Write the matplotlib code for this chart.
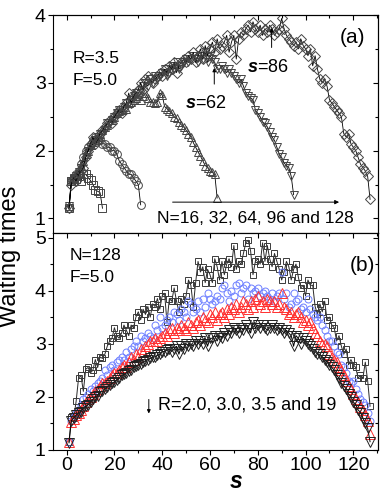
import matplotlib
matplotlib.use('Agg')
import matplotlib.pyplot as plt
from matplotlib.ticker import MultipleLocator

plt.rcParams['font.family'] = ['Liberation Sans', 'DejaVu Sans']
plt.rcParams['mathtext.fontset'] = 'custom'
plt.rcParams['mathtext.it'] = 'Liberation Sans:italic:bold'
plt.rcParams['mathtext.rm'] = 'Liberation Sans'

# ---- data: panel (a), R=3.5, F=5.0, different chain lengths N ----
n16 = [1.15, 1.55, 1.60, 1.58, 1.62, 1.55, 1.66, 1.65, 1.60, 1.56, 1.50, 1.42, 1.40, 1.38, 1.15]

n32 = [1.15, 1.55, 1.60, 1.65, 1.70, 1.80, 1.90, 2.00, 2.05, 2.10,
       2.15, 2.20, 2.15, 2.15, 2.10, 2.10, 2.05, 2.05, 2.00, 2.00,
       1.95, 1.85, 1.80, 1.75, 1.70, 1.65, 1.65, 1.60, 1.55, 1.50,
       1.20]

n64 = [1.18, 1.58, 1.60, 1.65, 1.72, 1.78, 1.85, 1.95, 2.00, 2.08,
       2.12, 2.18, 2.20, 2.25, 2.30, 2.35, 2.38, 2.45, 2.45, 2.50,
       2.55, 2.58, 2.60, 2.65, 2.62, 2.70, 2.72, 2.75, 2.78, 2.80,
       2.75, 2.80, 2.85, 2.78, 2.72, 2.72, 2.70, 2.72, 2.85, 2.82,
       2.65, 2.62, 2.58, 2.55, 2.50, 2.48, 2.42, 2.38, 2.35, 2.30,
       2.25, 2.20, 2.12, 2.05, 1.98, 1.92, 1.85, 1.78, 1.75, 1.70,
       1.68, 1.65, 1.30]

n96 = [1.18, 1.55, 1.58, 1.62, 1.68, 1.75, 1.80, 1.90, 2.00, 2.05,
       2.10, 2.15, 2.20, 2.25, 2.25, 2.30, 2.40, 2.40, 2.45, 2.50,
       2.55, 2.60, 2.60, 2.65, 2.70, 2.70, 2.75, 2.80, 2.85, 2.85,
       2.90, 2.95, 3.00, 2.95, 3.05, 3.00, 3.10, 3.05, 3.10, 3.15,
       3.20, 3.10, 3.15, 3.25, 3.20, 3.30, 3.20, 3.25, 3.30, 3.35,
       3.30, 3.35, 3.40, 3.35, 3.30, 3.40, 3.35, 3.45, 3.30, 3.40,
       3.35, 3.30, 3.20, 3.20, 3.25, 3.20, 3.15, 3.20, 3.15, 3.10,
       3.05, 3.00, 3.05, 2.95, 2.85, 2.80, 2.78, 2.75, 2.60, 2.55,
       2.50, 2.42, 2.40, 2.35, 2.28, 2.20, 2.15, 2.05, 1.95, 1.90,
       1.82, 1.78, 1.75, 1.62, 1.35]

n128 = [1.15, 1.50, 1.60, 1.55, 1.65, 1.70, 1.75, 1.90, 2.00, 2.10,
        2.20, 2.10, 2.15, 2.25, 2.30, 2.35, 2.40, 2.45, 2.40, 2.50,
        2.55, 2.60, 2.55, 2.65, 2.70, 2.85, 2.70, 2.80, 2.85, 2.90,
        3.00, 2.90, 3.05, 3.10, 3.05, 3.00, 3.05, 3.10, 3.15, 3.10,
        3.20, 3.15, 3.25, 3.20, 3.30, 3.15, 3.25, 3.30, 3.35, 3.30,
        3.40, 3.35, 3.45, 3.30, 3.40, 3.50, 3.35, 3.55, 3.40, 3.50,
        3.60, 3.45, 3.65, 3.50, 3.55, 3.60, 3.70, 3.45, 3.60, 3.70,
        3.35, 3.65, 3.75, 3.70, 3.80, 3.85, 3.75, 3.90, 3.80, 3.75,
        3.85, 3.70, 3.80, 3.75, 3.85, 3.80, 3.70, 3.75, 3.80, 3.95,
        3.80, 3.70, 3.65, 3.60, 3.55, 3.60, 3.50, 3.65, 3.55, 3.50,
        3.40, 3.50, 3.25, 3.40, 3.20, 3.05, 3.00, 3.05, 2.95, 2.75,
        2.70, 2.65, 2.60, 2.55, 2.50, 2.25, 2.20, 2.25, 2.10, 2.05,
        2.00, 1.90, 1.80, 1.75, 1.70, 1.62, 1.28]

# ---- data: panel (b), N=128, F=5.0, different R ----
r20 = [1.15, 1.62, 1.60, 1.92, 2.35, 2.40, 2.10, 2.52, 2.55, 2.45,
       2.50, 2.70, 2.55, 2.75, 2.72, 2.80, 2.95, 3.05, 3.10, 3.30,
       3.15, 3.10, 3.20, 3.35, 3.25, 3.15, 3.35, 3.30, 3.50, 3.60,
       3.45, 3.65, 3.55, 3.70, 3.50, 3.75, 3.70, 3.85, 3.65, 3.90,
       3.95, 3.40, 3.85, 3.80, 4.05, 3.80, 3.60, 3.85, 3.75, 3.90,
       4.20, 4.10, 3.70, 4.15, 4.55, 4.35, 4.45, 4.15, 4.40, 4.30,
       4.15, 4.60, 4.45, 4.20, 4.55, 4.30, 4.50, 4.60, 4.45, 4.85,
       4.40, 4.55, 4.50, 4.70, 4.90, 4.95, 4.75, 4.30, 4.55, 4.60,
       4.50, 4.90, 4.55, 4.85, 4.60, 4.45, 4.70, 4.55, 4.40, 4.20,
       4.35, 4.55, 4.45, 4.20, 4.40, 4.50, 4.25, 4.05, 4.10, 3.90,
       4.20, 4.10, 4.10, 3.70, 3.55, 3.75, 3.60, 3.80, 3.45, 3.50,
       3.35, 3.30, 3.05, 3.15, 2.95, 2.80, 2.90, 2.60, 2.70, 2.60,
       2.55, 2.35, 2.40, 2.35, 2.65, 2.30, 1.82]

r30 = [1.15, 1.55, 1.62, 1.70, 1.75, 1.85, 1.95, 2.00, 2.05, 2.15,
       2.10, 2.20, 2.25, 2.30, 2.35, 2.50, 2.40, 2.55, 2.60, 2.50,
       2.65, 2.70, 2.75, 2.70, 2.85, 2.75, 2.90, 2.95, 3.05, 2.95,
       3.15, 3.05, 3.10, 3.20, 3.15, 3.10, 3.35, 3.25, 3.50, 3.30,
       3.35, 3.45, 3.50, 3.40, 3.60, 3.55, 3.45, 3.65, 3.60, 3.50,
       3.80, 3.75, 3.60, 3.65, 3.80, 3.60, 3.85, 3.70, 3.95, 3.85,
       3.75, 3.80, 3.90, 3.85, 4.05, 4.10, 3.95, 3.80, 4.00, 3.90,
       4.10, 4.15, 3.95, 4.05, 4.10, 3.85, 4.05, 3.95, 4.00, 4.05,
       3.90, 3.95, 4.00, 3.90, 3.85, 3.95, 3.80, 3.90, 3.95, 4.35,
       3.85, 3.95, 3.70, 3.75, 3.95, 3.80, 3.85, 3.65, 3.70, 3.60,
       3.85, 3.65, 3.55, 3.50, 3.45, 3.50, 3.35, 3.25, 3.15, 3.05,
       3.05, 2.95, 2.85, 2.80, 2.60, 2.55, 2.45, 2.30, 2.25, 2.30,
       2.15, 2.05, 1.95, 1.90, 1.85, 1.70, 1.55]

r35 = [1.15, 1.52, 1.58, 1.65, 1.70, 1.75, 1.82, 1.90, 1.95, 2.00,
       2.05, 2.10, 2.15, 2.20, 2.25, 2.25, 2.30, 2.35, 2.40, 2.45,
       2.45, 2.50, 2.55, 2.60, 2.55, 2.65, 2.75, 2.70, 2.80, 2.75,
       2.90, 2.85, 2.95, 3.00, 3.05, 3.05, 3.10, 3.05, 3.10, 3.15,
       3.20, 3.15, 3.25, 3.30, 3.20, 3.30, 3.25, 3.35, 3.30, 3.25,
       3.40, 3.35, 3.30, 3.40, 3.45, 3.35, 3.50, 3.45, 3.40, 3.55,
       3.50, 3.60, 3.45, 3.55, 3.60, 3.50, 3.65, 3.55, 3.70, 3.65,
       3.75, 3.60, 3.70, 3.80, 3.75, 3.65, 3.80, 3.70, 3.85, 3.90,
       3.75, 3.80, 3.70, 3.85, 3.80, 3.75, 3.80, 3.70, 3.75, 3.95,
       3.70, 3.65, 3.55, 3.60, 3.50, 3.55, 3.60, 3.50, 3.40, 3.45,
       3.35, 3.40, 3.30, 3.20, 3.15, 3.05, 3.00, 3.00, 2.95, 2.80,
       2.75, 2.70, 2.65, 2.55, 2.50, 2.40, 2.30, 2.20, 2.15, 2.05,
       1.95, 1.90, 1.80, 1.75, 1.65, 1.55, 1.30]

r19 = [1.13, 1.55, 1.60, 1.65, 1.70, 1.72, 1.78, 1.82, 1.85, 1.90,
       1.95, 2.00, 2.02, 2.08, 2.10, 2.15, 2.18, 2.22, 2.25, 2.28,
       2.32, 2.35, 2.40, 2.42, 2.45, 2.48, 2.50, 2.55, 2.58, 2.60,
       2.62, 2.65, 2.68, 2.70, 2.72, 2.75, 2.75, 2.78, 2.80, 2.85,
       2.85, 2.88, 2.90, 2.85, 2.90, 2.95, 2.80, 2.95, 2.90, 3.00,
       2.95, 3.00, 2.95, 3.05, 3.00, 3.05, 3.00, 3.10, 2.95, 3.10,
       3.10, 3.15, 3.05, 3.15, 3.10, 3.20, 3.15, 3.25, 3.20, 3.30,
       3.25, 3.20, 3.30, 3.25, 3.35, 3.30, 3.20, 3.40, 3.30, 3.35,
       3.30, 3.35, 3.30, 3.25, 3.30, 3.35, 3.30, 3.25, 3.30, 3.25,
       3.20, 3.25, 3.20, 3.15, 2.95, 3.15, 3.10, 3.00, 3.10, 3.05,
       3.00, 2.95, 2.90, 2.85, 2.80, 2.80, 2.75, 2.70, 2.65, 2.60,
       2.55, 2.50, 2.40, 2.35, 2.25, 2.20, 2.15, 2.05, 2.00, 1.90,
       1.85, 1.75, 1.70, 1.60, 1.50, 1.40, 1.15]

top_series = [(n16, 's'), (n32, 'o'), (n64, '^'), (n96, 'v'), (n128, 'D')]

fig = plt.figure(figsize=(3.82, 4.94), dpi=100)
ax1 = fig.add_axes([0.140, 0.5277, 0.850, 0.4419])
ax2 = fig.add_axes([0.140, 0.0897, 0.850, 0.4380])

# ---- panel (a) ----
for vals, m in top_series:
    s = list(range(1, len(vals) + 1))
    ms = 5.0 if m == 'D' else 5.6
    ax1.plot(s, vals, color='k', lw=0.6, marker=m, ms=ms, mfc='none',
             mec='#454545', mew=0.7)

ax1.text(2.6, 3.36, 'R=3.5', fontsize=12.5, va='center')
ax1.text(2.6, 3.04, 'F=5.0', fontsize=12.5, va='center')
ax1.text(119.8, 3.67, '(a)', fontsize=15, ha='center', va='center')
ax1.text(58.3, 2.70, r'$\mathit{s}$=62', fontsize=13, ha='center', va='center')
ax1.text(84.3, 3.22, r'$\mathit{s}$=86', fontsize=13, ha='center', va='center')
ax1.annotate('', xy=(61.8, 3.26), xytext=(61.8, 2.94),
             arrowprops=dict(arrowstyle='-|>', color='k', lw=0.7, mutation_scale=5))
ax1.annotate('', xy=(85.8, 3.85), xytext=(85.8, 3.48),
             arrowprops=dict(arrowstyle='-|>', color='k', lw=0.7, mutation_scale=5))
ax1.annotate('', xy=(115.2, 1.24), xytext=(43.2, 1.24),
             arrowprops=dict(arrowstyle='-|>', color='k', lw=0.7, mutation_scale=6))
ax1.text(37.8, 1.0, 'N=16, 32, 64, 96 and 128', fontsize=12.5, va='center')
ax1.set_ylim(0.78, 4.0)

# ---- panel (b) ----
s = list(range(1, 128))
ax2.plot(s, r20, color='#2a2a2a', lw=0.7, marker='s', ms=5, mfc='none',
         mec='#3a3a3a', mew=0.7)
ax2.plot(s, r30, ls='none', marker='o', ms=5, mfc='none', mec='#6e80ff', mew=0.7)
ax2.plot(s, r35, ls='none', marker='^', ms=6.8, mfc='none', mec='#ff3030', mew=0.7)
ax2.plot(s, r19, color='k', lw=0.7, marker='v', ms=6.5, mfc='none', mec='#202020', mew=0.7)

ax2.text(1.4, 4.67, 'N=128', fontsize=12.5, va='center')
ax2.text(1.4, 4.25, 'F=5.0', fontsize=12.5, va='center')
ax2.text(124, 4.48, '(b)', fontsize=15, ha='center', va='center')
ax2.annotate('', xy=(34.4, 1.63), xytext=(34.4, 2.0),
             arrowprops=dict(arrowstyle='-|>', color='k', lw=0.7, mutation_scale=5))
ax2.text(38.2, 1.84, 'R=2.0, 3.0, 3.5 and 19', fontsize=13, va='center')
ax2.set_ylim(1.0, 5.08)

# ---- axes styling (Origin-like: outer ticks out, mirrored ticks in) ----
for ax in (ax1, ax2):
    ax.set_xlim(-5.5, 130.4)
    ax.xaxis.set_major_locator(MultipleLocator(20))
    ax.xaxis.set_minor_locator(MultipleLocator(10))
    ax.yaxis.set_major_locator(MultipleLocator(1))
    ax.yaxis.set_minor_locator(MultipleLocator(0.5))
    ax.tick_params(which='both', direction='out', width=0.8, labelsize=14, pad=2)
    ax.tick_params(which='major', length=3.5)
    ax.tick_params(which='minor', length=2.5)
    for sp in ax.spines.values():
        sp.set_linewidth(0.8)
    secx = ax.secondary_xaxis('top')
    secx.xaxis.set_major_locator(MultipleLocator(20))
    secx.xaxis.set_minor_locator(MultipleLocator(10))
    secx.tick_params(which='both', direction='in', labeltop=False, width=0.8)
    secx.tick_params(which='major', length=3.5)
    secx.tick_params(which='minor', length=2.5)
    secy = ax.secondary_yaxis('right')
    secy.yaxis.set_major_locator(MultipleLocator(1))
    secy.yaxis.set_minor_locator(MultipleLocator(0.5))
    secy.tick_params(which='both', direction='in', labelright=False, width=0.8)
    secy.tick_params(which='major', length=3.5)
    secy.tick_params(which='minor', length=2.5)

ax1.tick_params(labelbottom=False)

fig.text(0.026, 0.482, 'Waiting times', rotation=90, ha='center', va='center', fontsize=17)
fig.text(0.618, 0.025, 's', style='italic', weight='bold', ha='center', va='center', fontsize=16.5)

fig.savefig('out.png', dpi=100)
